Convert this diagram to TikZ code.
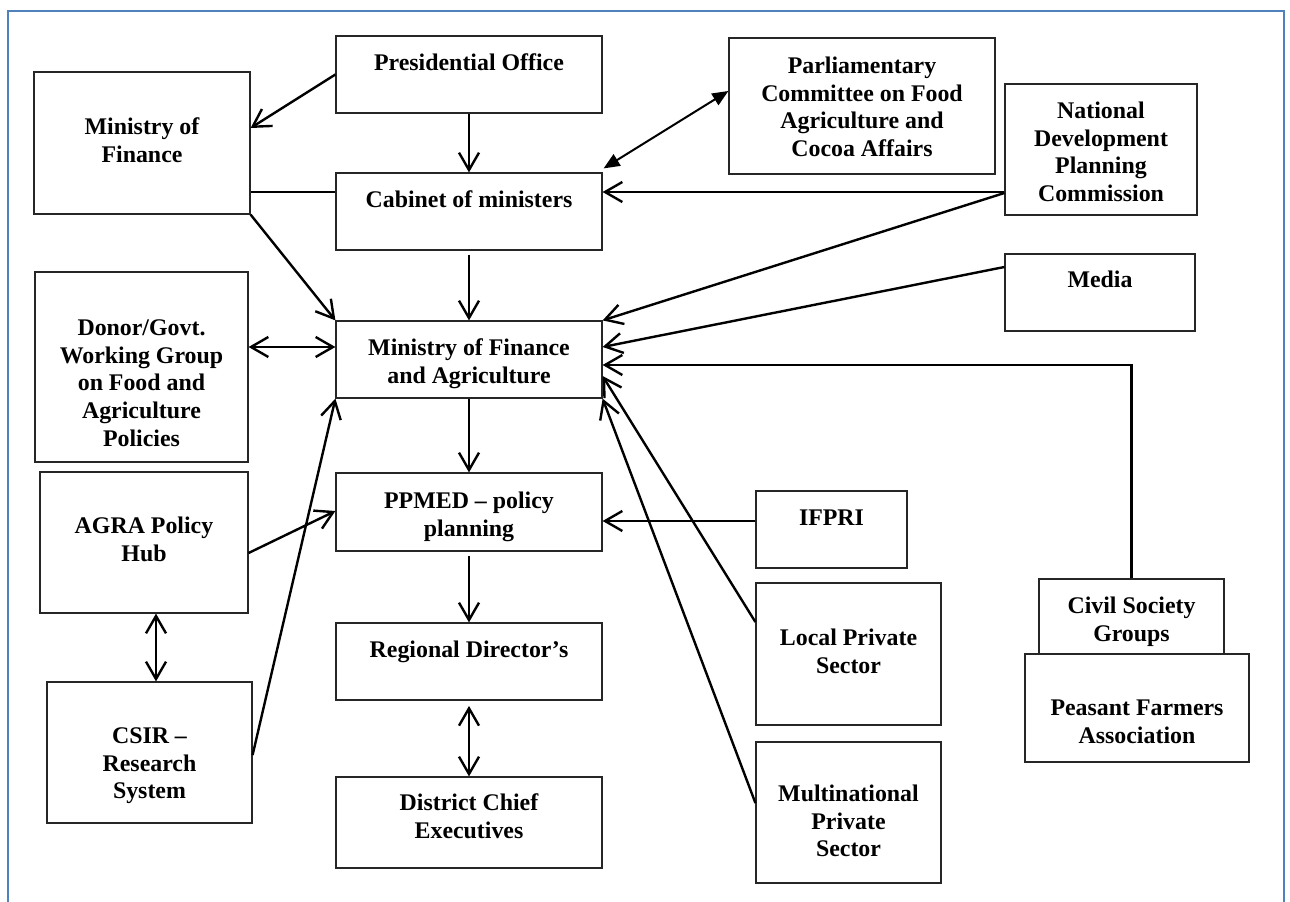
\documentclass[tikz,border=0pt]{standalone}
\usepackage{fontspec}
\setmainfont{Liberation Serif}
\usetikzlibrary{arrows.meta,calc}
\definecolor{frameblue}{RGB}{79,129,189}
\tikzset{
  box/.style={draw=black!85, line width=0.9pt, fill=white, inner sep=0pt, rectangle},
  lbl/.style={font=\bfseries\fontsize{17.9pt}{20.7pt}\selectfont, align=center, inner sep=0pt, anchor=north},
  conn/.style={line width=1.8pt, >={Straight Barb[length=13pt,width=15pt]}},
  fconn/.style={line width=1.5pt, >={Triangle[length=12pt,width=10pt]}},
}
\newcommand\placebox[5]{\node[box, minimum width={(#4-#2)*0.75pt}, minimum height={(#5-#3)*0.75pt}] (#1) at ({(#2+#4)/2},{(#3+#5)/2}) {};}
\begin{document}
\begin{tikzpicture}[x=0.75pt,y=-0.75pt]
\useasboundingbox (0,0) rectangle (1290,902);
\draw[frameblue, line width=2.2pt] (8,905) -- (8,11) -- (1284,11) -- (1284,905);

% boxes
\placebox{mof}{34}{72}{250}{214}
\placebox{pres}{336}{36}{602}{113}
\placebox{cab}{336}{173}{602}{250}
\placebox{parl}{729}{38}{995}{174}
\placebox{ndpc}{1005}{84}{1197}{215}
\placebox{media}{1005}{254}{1195}{331}
\placebox{donor}{35}{272}{248}{462}
\placebox{mofa}{336}{321}{602}{398}
\placebox{agra}{40}{472}{248}{613}
\placebox{ppmed}{336}{473}{602}{551}
\placebox{ifpri}{756}{491}{907}{568}
\placebox{lps}{756}{583}{941}{725}
\placebox{csir}{47}{682}{252}{823}
\placebox{reg}{336}{623}{602}{700}
\placebox{dist}{336}{777}{602}{868}
\placebox{mnps}{756}{742}{941}{883}
\placebox{cs}{1039}{579}{1224}{654}
\placebox{pfa}{1025}{654}{1249}{762}

% texts
\node[lbl] (mof-t) at (142,115.2) {\strut Ministry of\\Finance};
\node[lbl] (pres-t) at (469,51.2) {\strut Presidential Office};
\node[lbl] (cab-t) at (469,188.2) {\strut Cabinet of ministers};
\node[lbl] (parl-t) at (862,54.2) {\strut Parliamentary\\Committee on Food\\Agriculture and\\Cocoa Affairs};
\node[lbl] (ndpc-t) at (1101,99.2) {\strut National\\Development\\Planning\\Commission};
\node[lbl] (media-t) at (1100,268.2) {\strut Media};
\node[lbl] (donor-t) at (141.5,316.2) {\strut Donor/Govt.\\Working Group\\on Food and\\Agriculture\\Policies};
\node[lbl] (mofa-t) at (469,336.2) {\strut Ministry of Finance\\and Agriculture};
\node[lbl] (agra-t) at (144,514.2) {\strut AGRA Policy\\Hub};
\node[lbl] (ppmed-t) at (469,489.2) {\strut PPMED – policy\\planning};
\node[lbl] (ifpri-t) at (831.5,506.2) {\strut IFPRI};
\node[lbl] (lps-t) at (848.5,626.2) {\strut Local Private\\Sector};
\node[lbl] (csir-t) at (149.5,724.2) {\strut CSIR –\\Research\\System};
\node[lbl] (reg-t) at (469,638.2) {\strut Regional Director’s};
\node[lbl] (dist-t) at (469,791.2) {\strut District Chief\\Executives};
\node[lbl] (mnps-t) at (848.5,782.2) {\strut Multinational\\Private\\Sector};
\node[lbl] (cs-t) at (1131.5,594.2) {\strut Civil Society\\Groups};
\node[lbl] (pfa-t) at (1137,696.2) {\strut Peasant Farmers\\Association};

% connectors
\draw[conn,->] (pres.west) -- (mof.east |- 0,128);
\draw[conn] (mof.east |- 0,192) -- (cab.west |- 0,192);
\draw[conn,->] (mof.south east) -- (mofa.north west);
\draw[conn,->] (pres.south) -- (cab.north);
\draw[fconn,<->] (parl.west |- 0,91) -- ($(cab.north east)+(1,-4)$);
\draw[conn,->] (ndpc.west |- 0,192) -- (cab.east |- 0,192);
\draw[conn,->,shorten <=3pt] (cab.south) -- (mofa.north);
\draw[conn,->] (ndpc.west |- 0,193) -- (mofa.north east);
\draw[conn,->] (media.west |- 0,267) -- (mofa.east |- 0,347);
\draw[conn,->] (cs.north) |- (mofa.east |- 0,365);
\draw[conn,->] (lps.west |- 0,622) -- (mofa.east |- 0,376);
\draw[conn,->] (mnps.west |- 0,803) -- (mofa.south east);
\draw[conn,<->] (donor.east |- 0,347) -- (mofa.west |- 0,347);
\draw[conn,->] (csir.east |- 0,755) -- (mofa.south west);
\draw[conn,->] (mofa.south) -- (ppmed.north);
\draw[conn,->] (agra.east |- 0,553) -- (ppmed.west |- 0,511);
\draw[conn,->] (ifpri.west |- 0,521) -- (ppmed.east |- 0,521);
\draw[conn,->,shorten <=3pt] (ppmed.south) -- (reg.north);
\draw[conn,<->,shorten <=4pt] (reg.south) -- (dist.north);
\draw[conn,<->] (agra.south -| 156,0) -- (csir.north -| 156,0);
\end{tikzpicture}
\end{document}
